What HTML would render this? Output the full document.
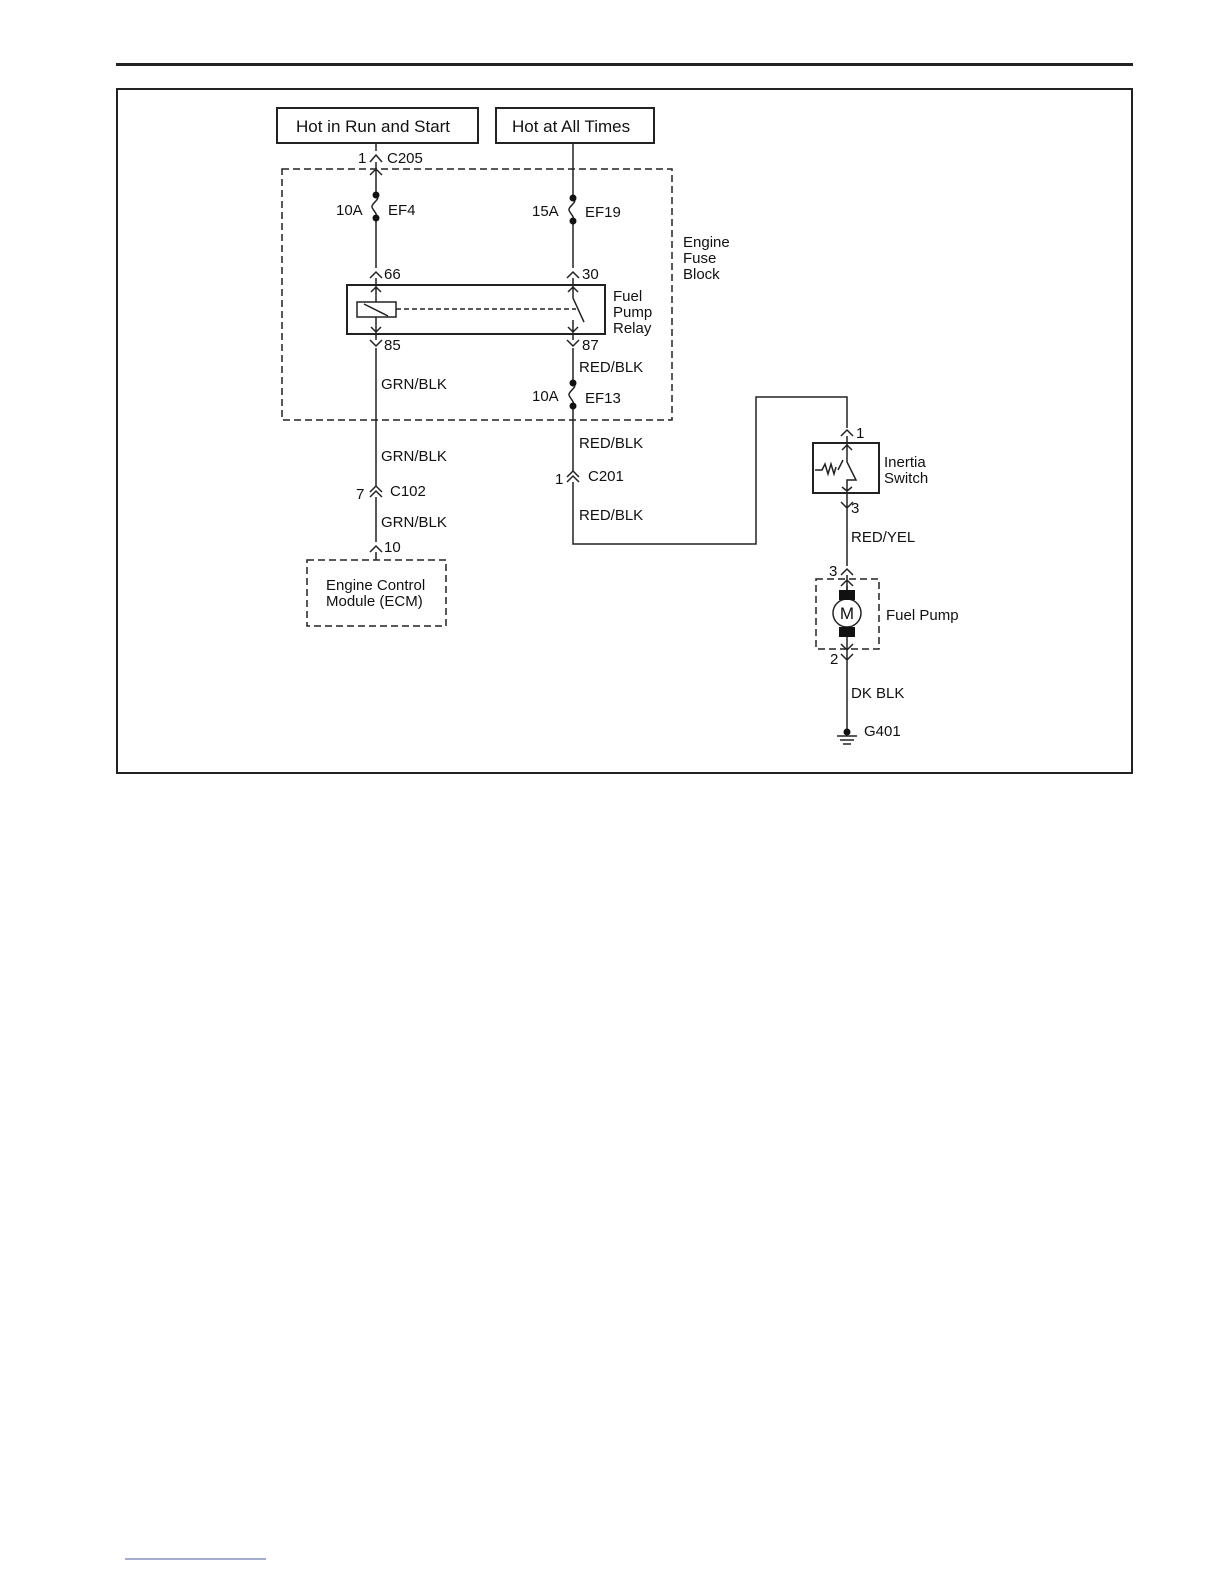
<!DOCTYPE html>
<html><head><meta charset="utf-8"><style>
html,body{margin:0;padding:0;background:#fff;overflow:hidden;width:1224px;height:1584px;}
svg{display:block;position:absolute;left:0;top:0;}
text{font-family:"Liberation Sans",Arial,sans-serif;fill:#111;font-size:15px;}
</style></head><body>
<svg width="1224" height="1584" viewBox="0 0 1224 1584" xmlns="http://www.w3.org/2000/svg">
<g stroke="#222" fill="none" stroke-width="1.5">
<line x1="116" y1="64.5" x2="1133" y2="64.5" stroke-width="3"/>
<rect x="117" y="89" width="1015" height="684" stroke-width="2"/>
<line x1="125" y1="1559" x2="266" y2="1559" stroke="#4a5aa0" stroke-width="1"/>
<rect x="277" y="108" width="201" height="35" stroke-width="2"/>
<rect x="496" y="108" width="158" height="35" stroke-width="2"/>
<rect x="282" y="169" width="390" height="251" stroke-dasharray="7,4"/>
<rect x="307" y="560" width="139" height="66" stroke-dasharray="7,4"/>
<rect x="816" y="579" width="63" height="70" stroke-dasharray="7,4"/>
<!-- left wire -->
<path d="M376 143V151 M376 162V195 M376 218V268 M376 278V285"/>
<path d="M376 334V340 M376 348V486 M376 497V542 M376 552V560"/>
<path d="M376 195 C382 199,371 203,372 207 C373 211,378 213,376 218"/>
<!-- right wire -->
<path d="M573 143V198 M573 221V268 M573 278V285 M573 334V340 M573 348V383 M573 406V471 M573 482V544H756V397H847V428 M847 436V443"/>
<path d="M573 198 C579 202,568 206,569 210 C570 214,575 216,573 221"/>
<path d="M573 383 C579 387,568 391,569 395 C570 399,575 401,573 406"/>
<!-- connectors -->
<path d="M370 162L376 155L382 162 M370 175L376 169L382 175"/>
<path d="M370 278L376 272L382 278 M567 278L573 272L579 278"/>
<path d="M370 340L376 346L382 340 M567 340L573 346L579 340"/>
<path d="M370 492L376 486L382 492 M370 497L376 491L382 497"/>
<path d="M567 477L573 471L579 477 M567 482L573 476L579 482"/>
<path d="M370 552L376 546L382 552"/>
<path d="M841 436L847 430L853 436 M841 502L847 508L853 502 M847 493V512 M847 512V566"/>
<path d="M841 575L847 569L853 575 M841 586L847 580L853 586 M847 575V590"/>
<path d="M841 644L847 650L853 644 M841 654L847 660L853 654 M847 637V730"/>
<!-- relay -->
<rect x="347" y="285" width="258" height="49" stroke-width="2"/>
<rect x="357" y="302" width="39" height="15"/>
<line x1="364" y1="304" x2="388" y2="316"/>
<line x1="396" y1="309" x2="576" y2="309" stroke-dasharray="5,3"/>
<path d="M376 285V302 M376 317V334 M371 292L376 287L381 292 M371 327L376 332L381 327"/>
<path d="M573 285V298L584 322 M573 320V334 M568 292L573 287L578 292 M568 327L573 332L578 327"/>
<!-- inertia -->
<rect x="813" y="443" width="66" height="50" stroke-width="2"/>
<path d="M847 443V462L856 480H847V493 M842 450L847 445L852 450 M842 487L847 491L852 487"/>
<path d="M815 470H822L825 464L828 474L831 464L834 474L836 467 M838 470L843 460" />
<!-- motor -->
<circle cx="847" cy="613" r="14"/>
<line x1="847" y1="586" x2="847" y2="590"/>
<!-- ground -->
<path d="M847 730V735 M837 736H857 M840 740H854 M843 744H851"/>
</g>
<rect x="839" y="590" width="16" height="10" fill="#111"/>
<rect x="839" y="627" width="16" height="10" fill="#111"/>
<circle cx="847" cy="732" r="3.5" fill="#111"/>
<g fill="#111">
<circle cx="376" cy="195" r="3.5"/><circle cx="376" cy="218" r="3.5"/>
<circle cx="573" cy="198" r="3.5"/><circle cx="573" cy="221" r="3.5"/>
<circle cx="573" cy="383" r="3.5"/><circle cx="573" cy="406" r="3.5"/>
</g>
<text x="296" y="132" style="font-size:17px">Hot in Run and Start</text>
<text x="512" y="132" style="font-size:17px">Hot at All Times</text>
<text x="358" y="163">1</text><text x="387" y="163">C205</text>
<text x="336" y="215">10A</text><text x="388" y="215">EF4</text>
<text x="532" y="216">15A</text><text x="585" y="217">EF19</text>
<text x="384" y="279">66</text><text x="582" y="279">30</text>
<text x="683" y="247">Engine</text><text x="683" y="263">Fuse</text><text x="683" y="279">Block</text>
<text x="613" y="301">Fuel</text><text x="613" y="317">Pump</text><text x="613" y="333">Relay</text>
<text x="384" y="350">85</text><text x="582" y="350">87</text>
<text x="579" y="372">RED/BLK</text>
<text x="381" y="389">GRN/BLK</text>
<text x="532" y="401">10A</text><text x="585" y="403">EF13</text>
<text x="579" y="448">RED/BLK</text>
<text x="381" y="461">GRN/BLK</text>
<text x="555" y="484">1</text><text x="588" y="481">C201</text>
<text x="356" y="499">7</text><text x="390" y="496">C102</text>
<text x="579" y="520">RED/BLK</text>
<text x="381" y="527">GRN/BLK</text>
<text x="384" y="552">10</text>
<text x="326" y="590">Engine Control</text><text x="326" y="606">Module (ECM)</text>
<text x="856" y="438">1</text>
<text x="884" y="467">Inertia</text><text x="884" y="483">Switch</text>
<text x="851" y="513">3</text>
<text x="851" y="542">RED/YEL</text>
<text x="829" y="576">3</text>
<text x="847" y="619" text-anchor="middle" style="font-size:17px">M</text>
<text x="886" y="620">Fuel Pump</text>
<text x="830" y="664">2</text>
<text x="851" y="698">DK BLK</text>
<text x="864" y="736">G401</text>
</svg>
</body></html>
